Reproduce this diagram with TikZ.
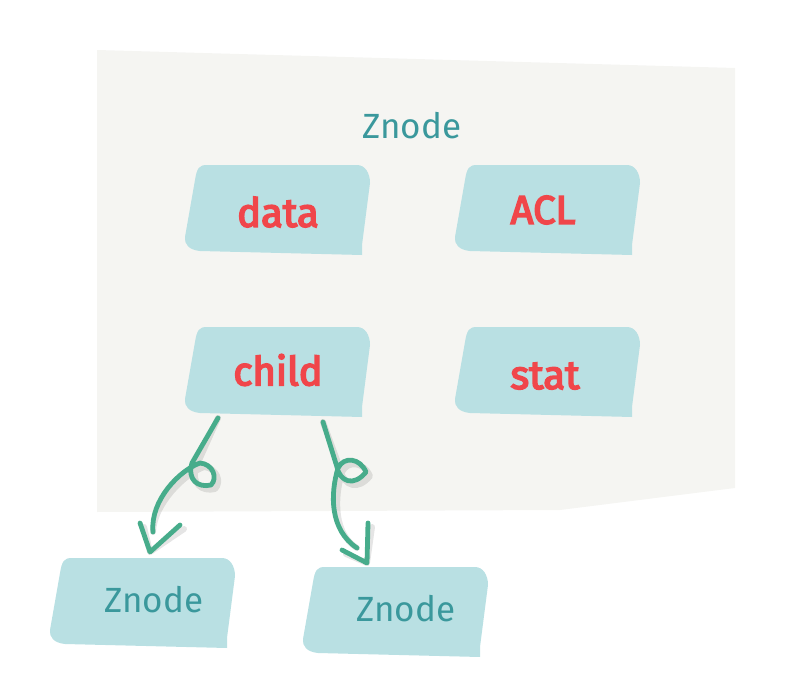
\documentclass[tikz,border=0pt]{standalone}
\usepackage{fontspec}
\newfontfamily\handfont{Fira Sans}
\newfontfamily\handfontb[FakeBold=4]{Fira Sans}
\definecolor{bgfill}{RGB}{245,245,242}
\definecolor{boxfill}{RGB}{185,224,227}
\definecolor{redtxt}{RGB}{240,70,74}
\definecolor{tealtxt}{RGB}{58,152,156}
\definecolor{arrowgreen}{RGB}{71,172,139}
\tikzset{
  blobshape/.pic={
    \fill[boxfill] (-82,-30) .. controls (-80,-42) and (-78,-45) .. (-70,-45)
      -- (80,-45) .. controls (88,-45) and (93,-37) .. (93,-27)
      -- (85,35) -- (85,45) -- (-77,41)
      .. controls (-88,40) and (-93,34) .. (-92,27) -- cycle;
  },
  fieldtext/.style={text=redtxt, font=\handfontb\fontsize{40}{44}\selectfont, inner sep=0pt},
  znodetext/.style={text=tealtxt, font=\handfont\fontsize{35}{40}\selectfont, inner sep=0pt},
  arrowline/.style={draw=arrowgreen, line width=4.8pt, line cap=round, line join=round},
  arrowshadow/.style={draw=black, opacity=0.10, line width=6pt, line cap=round, line join=round},
}
\begin{document}
\begin{tikzpicture}[x=1pt,y=-1pt]
\useasboundingbox (0,0) rectangle (812,685);
% background panel
\fill[bgfill] (97,50) -- (735,68) -- (735,488) -- (560,510) -- (97,512) -- cycle;
% boxes
\pic at (277,210) {blobshape};
\pic at (547,210) {blobshape};
\pic at (277,372) {blobshape};
\pic at (547,372) {blobshape};
\pic at (142,603) {blobshape};
\pic at (395,612) {blobshape};
% labels
\node[znodetext] (title) at (412,126) {Znode};
\node[fieldtext] (data) at (278,212) {data};
\node[fieldtext] (acl) at (543,210) {ACL};
\node[fieldtext] (child) at (278,370) {child};
\node[fieldtext] (stat) at (545,376) {stat};
\node[znodetext] (zl) at (154,600) {Znode};
\node[znodetext] (zr) at (406,609) {Znode};
% arrow endpoints
\coordinate (ls) at (218,418);
\coordinate (le) at (153,532);
\coordinate (ltip) at (150,552);
\coordinate (rs) at (323,422);
\coordinate (re) at (357,548);
\coordinate (rtip) at (367,563);
% shadows
\begin{scope}[shift={(4,4)}]
\draw[arrowshadow] (ls) -- (192,463) .. controls (187,480) and (198,488) .. (211,485)
  .. controls (218,478) and (213,464) .. (200,463)
  .. controls (180,470) and (150,500) .. (le);
\draw[arrowshadow] (140,523) -- (ltip) -- (180,525);
\draw[arrowshadow] (rs) -- (337,467) .. controls (340,482) and (354,487) .. (366,472)
  .. controls (360,458) and (344,456) .. (338,468)
  .. controls (330,495) and (330,530) .. (re);
\draw[arrowshadow] (342,550) -- (rtip) -- (368,523);
\end{scope}
% arrows
\draw[arrowline] (ls) -- (192,463) .. controls (187,480) and (198,488) .. (211,485)
  .. controls (218,478) and (213,464) .. (200,463)
  .. controls (180,470) and (150,500) .. (le);
\draw[arrowline] (140,523) -- (ltip) -- (180,525);
\draw[arrowline] (rs) -- (337,467) .. controls (340,482) and (354,487) .. (366,472)
  .. controls (360,458) and (344,456) .. (338,468)
  .. controls (330,495) and (330,530) .. (re);
\draw[arrowline] (342,550) -- (rtip) -- (368,523);
\end{tikzpicture}
\end{document}
